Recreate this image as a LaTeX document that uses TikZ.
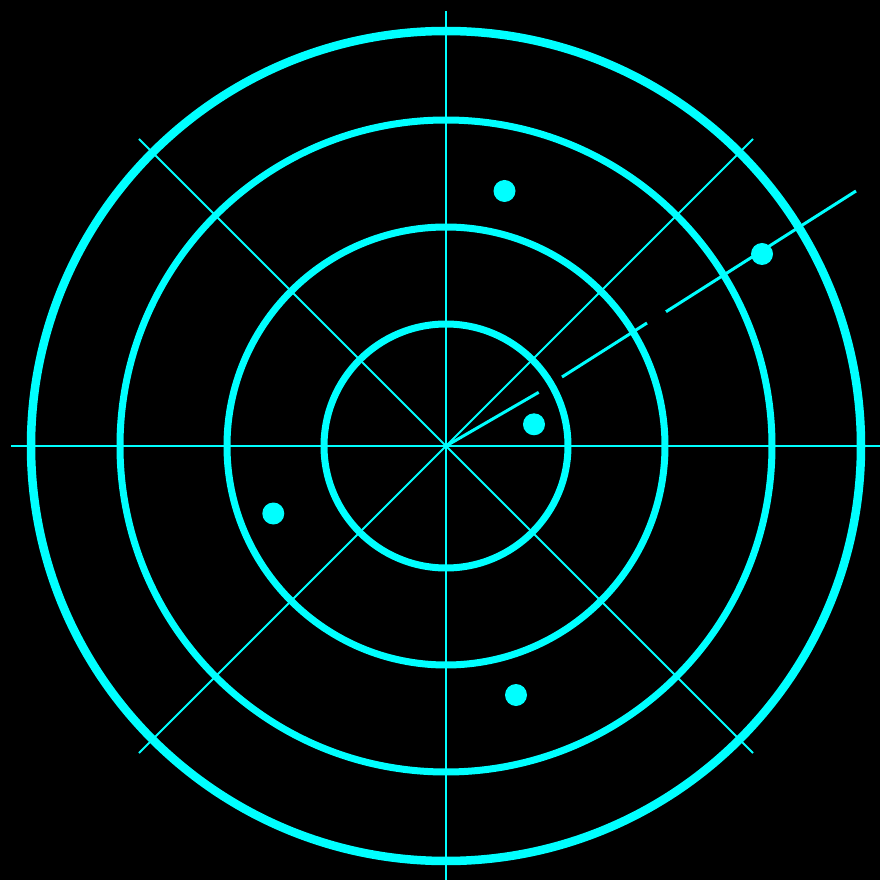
\documentclass[tikz,border=0pt]{standalone}
\begin{document}
\begin{tikzpicture}[x=1pt,y=1pt,
  ring/.style={draw=radar,line width=7pt},
  grid/.style={draw=radar,line width=2pt},
  trail/.style={draw=radar,line width=3pt},
  blip/.style={fill=radar}]
\definecolor{radar}{HTML}{00FFFF}
\fill[black] (-446,-434) rectangle (434,446);
\useasboundingbox (-446,-434) rectangle (434,446);
% rings
\draw[ring,line width=8.5pt] (0,0) circle (415);
\draw[ring] (0,0) circle (326);
\draw[ring] (0,0) circle (219);
\draw[ring] (0,0) circle (122);
% cross hairs
\draw[grid] (-435,0) -- (435,0);
\draw[grid] (0,-435) -- (0,435);
\draw[grid] (-307,307) -- (307,-307);
\draw[grid] (-307,-307) -- (307,307);
% sweep
\draw[trail] (0,0) -- (92.7,53.7);
\draw[trail] (116,69) -- (201,123);
\draw[trail] (220,134.3) -- (410,255);
% blips
\fill[blip] (58.5,255) circle (11);
\fill[blip] (316,192) circle (11);
\fill[blip] (88,21.7) circle (11);
\fill[blip] (-172.7,-67.5) circle (11);
\fill[blip] (70,-249) circle (11);
\end{tikzpicture}
\end{document}
